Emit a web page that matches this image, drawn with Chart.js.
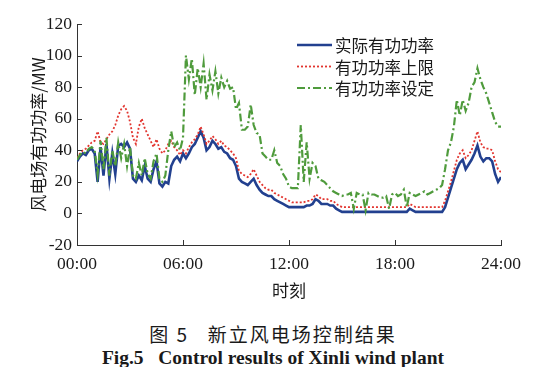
<!DOCTYPE html>
<html>
<head>
<meta charset="utf-8">
<script src="https://cdn.jsdelivr.net/npm/chart.js@4.4.1/dist/chart.umd.min.js"></script>
<style>
  html, body { margin: 0; padding: 0; background: #fff; }
  #wrap { position: relative; width: 546px; height: 367px; overflow: hidden; background: #fff; }
  #c { position: absolute; left: 0; top: 0; }
  .cap { position: absolute; left: 0; width: 546px; text-align: center; color: #1a1a1a; white-space: pre; }
  #cap1 { top: 320px; font: 19px "Noto Sans CJK SC", sans-serif; letter-spacing: 2px; }
  #cap2 { top: 347px; font: bold 19.5px "Liberation Serif", serif; }
</style>
</head>
<body>
<div id="wrap">
  <canvas id="c" width="546" height="305"></canvas>
  <div class="cap" id="cap1">图 5   新立风电场控制结果</div>
  <div class="cap" id="cap2">Fig.5   Control results of Xinli wind plant</div>
</div>
<script>
// ---- data (10-minute samples, 00:00 .. 24:00) ----
const STEP_MINUTES = 10;
const xTickHours = [0, 6, 12, 18, 24];
const seriesNames = ["实际有功功率", "有功功率上限", "有功功率设定"];

const actualPower = [
  33,36,38,37,40,41,  38,20,42,24,44,22,  38,25,43,44,42,45,  41,22,20,24,21,30,
  22,20,28,33,19,17,  20,19,30,34,36,33,  38,35,38,42,44,48,  52,48,40,42,46,44,
  41,42,39,38,35,34,  30,22,20,19,18,20,  22,18,15,13,12,11,  11,9,8,7,6,5,
  4,4,4,4,4,4,        5,5,6,9,8,6,        6,6,5,5,3,2,        1,1,1,1,1,1,
  1,1,1,1,1,1,        1,1,1,1,1,1,        1,1,1,1,1,3,        2,1,1,1,1,1,
  1,1,1,1,1,4,        10,16,22,28,32,34,  28,31,34,38,43,36,  33,35,35,33,25,20,
  23
];
const upperLimit = [
  35,38,40,41,43,45,  46,52,45,44,47,50,  52,56,62,66,68,65,  58,48,44,55,60,54,
  50,46,42,47,41,38,  40,44,46,42,40,37,  40,38,42,45,47,50,  55,50,44,46,49,47,
  44,46,43,42,40,38,  35,27,25,24,23,25,  28,24,20,18,16,15,  15,13,12,11,10,9,
  8,7,7,7,7,7,        8,8,9,12,11,9,      9,9,8,8,6,5,        4,4,4,4,4,4,
  4,4,4,4,4,4,        4,4,4,4,4,4,        4,4,4,4,4,6,        5,4,4,4,4,4,
  4,4,4,4,4,8,        14,20,27,34,38,40,  35,37,40,46,52,45,  42,41,41,40,33,28,
  26
];
const setPoint = [
  34,37,39,38,41,42,  40,25,46,28,48,24,  40,30,45,35,44,30,  42,24,22,32,24,35,
  25,22,33,38,22,20,  24,40,52,42,45,40,  48,100,85,98,75,92, 80,95,72,88,78,90,
  76,86,80,84,79,80,  66,70,53,53,55,69,  56,51,50,38,36,34,  34,40,32,30,25,22,
  17,16,16,16,56,20,  45,22,32,30,22,21,  20,18,16,14,13,12,  11,12,12,13,3,13,
  12,12,2,13,12,12,   11,10,10,11,3,12,   13,11,12,15,4,13,   12,11,12,13,14,12,
  13,14,15,16,18,28,  40,45,55,72,62,72,  65,70,80,83,92,85,  80,76,70,64,58,55,
  55
];

function toPoints(arr) {
  return arr.map((v, i) => ({ x: i * STEP_MINUTES / 60, y: v }));
}

const COLORS = { blue: "#22408f", red: "#e2352f", green: "#4f9b3c", axis: "#333333", text: "#1a1a1a" };

// inward tick marks drawn on the library's scales
const inwardTicks = {
  id: "inwardTicks",
  afterDraw(chart) {
    const ctx = chart.ctx, xs = chart.scales.x, ys = chart.scales.y;
    const a = chart.chartArea;
    ctx.save();
    ctx.strokeStyle = COLORS.axis;
    ctx.lineWidth = 1;
    ctx.beginPath();
    ys.ticks.forEach(t => {
      const y = Math.round(ys.getPixelForValue(t.value)) + 0.5;
      ctx.moveTo(a.left, y); ctx.lineTo(a.left + 5, y);
    });
    xs.ticks.forEach(t => {
      const x = Math.round(xs.getPixelForValue(t.value)) + 0.5;
      ctx.moveTo(x, a.bottom); ctx.lineTo(x, a.bottom - 5);
    });
    ctx.stroke();
    ctx.restore();
  }
};

// legend drawn inside the plot area
const innerLegend = {
  id: "innerLegend",
  afterDraw(chart) {
    const ctx = chart.ctx;
    const x0 = 297, y0 = 45, rowH = 21.5, lineLen = 35;
    ctx.save();
    ctx.font = '16.5px "Noto Sans CJK SC", sans-serif';
    ctx.textBaseline = "middle";
    chart.data.datasets.forEach((ds, i) => {
      const y = y0 + i * rowH;
      ctx.strokeStyle = ds.borderColor;
      ctx.lineWidth = ds.borderWidth;
      ctx.setLineDash(ds.borderDash || []);
      ctx.beginPath();
      ctx.moveTo(x0, y); ctx.lineTo(x0 + lineLen, y);
      ctx.stroke();
      ctx.setLineDash([]);
      ctx.fillStyle = COLORS.text;
      ctx.fillText(ds.label, x0 + lineLen + 3, y + 1);
    });
    ctx.restore();
  }
};

new Chart(document.getElementById("c"), {
  type: "line",
  data: {
    datasets: [
      { label: seriesNames[0], data: toPoints(actualPower), borderColor: COLORS.blue, borderWidth: 2.6, order: 2 },
      { label: seriesNames[1], data: toPoints(upperLimit), borderColor: COLORS.red, borderWidth: 1.8, borderDash: [2, 2], order: 1 },
      { label: seriesNames[2], data: toPoints(setPoint), borderColor: COLORS.green, borderWidth: 2.2, borderDash: [8, 3, 2, 3], order: 0 }
    ]
  },
  options: {
    responsive: false,
    animation: false,
    devicePixelRatio: 1,
    layout: { padding: { left: 0, right: 45, top: 24, bottom: 4 } },
    elements: { point: { radius: 0 }, line: { tension: 0, borderCapStyle: "butt", borderJoinStyle: "miter" } },
    plugins: { legend: { display: false }, tooltip: { enabled: false } },
    scales: {
      x: {
        type: "linear", min: 0, max: 24,
        afterBuildTicks(scale) { scale.ticks = xTickHours.map(v => ({ value: v })); },
        afterFit(scale) { scale.height = 56; },
        grid: { display: false, drawTicks: false },
        border: { display: true, color: COLORS.axis, width: 1 },
        ticks: {
          padding: 9, maxRotation: 0, autoSkip: false, color: COLORS.text,
          font: { family: "Liberation Serif", size: 17.5 },
          callback: v => String(v).padStart(2, "0") + ":00"
        },
        title: { display: true, text: "时刻", color: COLORS.text, padding: 0,
                 font: { family: "Noto Sans CJK SC", size: 17 } }
      },
      y: {
        min: -20, max: 120,
        afterFit(scale) { scale.width = 77; },
        grid: { display: false, drawTicks: false },
        border: { display: true, color: COLORS.axis, width: 1 },
        ticks: { stepSize: 20, padding: 5, color: COLORS.text,
                 font: { family: "Liberation Serif", size: 17.5 } },
        title: { display: true, text: "风电场有功功率/MW", color: COLORS.text,
                 padding: { top: 28, bottom: 0 },
                 font: { family: "Noto Sans CJK SC", size: 17 } }
      }
    }
  },
  plugins: [inwardTicks, innerLegend]
});
</script>
</body>
</html>
